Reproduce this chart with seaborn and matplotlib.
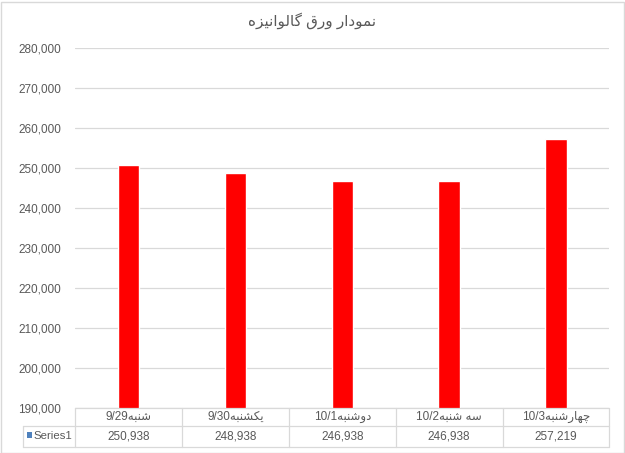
import matplotlib
matplotlib.use("Agg")
import matplotlib.pyplot as plt
import matplotlib.transforms as mtransforms
from matplotlib.lines import Line2D
from matplotlib.patches import Rectangle
import seaborn as sns
import pandas as pd

# ---------------- data ----------------
day_names = ["شنبه", "یکشنبه", "دوشنبه", "سه شنبه", "چهارشنبه"]
dates = ["9/29", "9/30", "10/1", "10/2", "10/3"]
values = [250938, 248938, 246938, 246938, 257219]
series_name = "Series1"
title_text = "نمودار ورق گالوانیزه"
y_ticks = [190000, 200000, 210000, 220000, 230000, 240000, 250000, 260000, 270000, 280000]

# ------------- minimal Arabic/Persian shaping -------------
FORMS = {  # isolated, final, initial, medial
    "\u0627": (0xFE8D, 0xFE8E, None, None),
    "\u0628": (0xFE8F, 0xFE90, 0xFE91, 0xFE92),
    "\u062F": (0xFEA9, 0xFEAA, None, None),
    "\u0631": (0xFEAD, 0xFEAE, None, None),
    "\u0632": (0xFEAF, 0xFEB0, None, None),
    "\u0633": (0xFEB1, 0xFEB2, 0xFEB3, 0xFEB4),
    "\u0634": (0xFEB5, 0xFEB6, 0xFEB7, 0xFEB8),
    "\u0642": (0xFED5, 0xFED6, 0xFED7, 0xFED8),
    "\u0644": (0xFEDD, 0xFEDE, 0xFEDF, 0xFEE0),
    "\u0645": (0xFEE1, 0xFEE2, 0xFEE3, 0xFEE4),
    "\u0646": (0xFEE5, 0xFEE6, 0xFEE7, 0xFEE8),
    "\u0647": (0xFEE9, 0xFEEA, 0xFEEB, 0xFEEC),
    "\u0648": (0xFEED, 0xFEEE, None, None),
    "\u062C": (0xFE9D, 0xFE9E, 0xFE9F, 0xFEA0),
    "\u06CC": (0xFBFC, 0xFBFD, 0xFBFE, 0xFBFF),
    "\u06A9": (0xFB8E, 0xFB8F, 0xFB90, 0xFB91),
    "\u06AF": (0xFB92, 0xFB93, 0xFB94, 0xFB95),
    "\u0686": (0xFB7A, 0xFB7B, 0xFB7C, 0xFB7D),
}


def dual(c):
    return c in FORMS and FORMS[c][2] is not None


def visual(s):
    out = []
    for i, c in enumerate(s):
        if c not in FORMS:
            out.append(c)
            continue
        prev_join = i > 0 and dual(s[i - 1])
        next_join = dual(c) and i + 1 < len(s) and s[i + 1] in FORMS
        iso, fin, ini, med = FORMS[c]
        if prev_join and next_join:
            code = med
        elif prev_join:
            code = fin
        elif next_join:
            code = ini
        else:
            code = iso
        out.append(chr(code))
    return "".join(out[::-1])


cat_labels = [d + visual(n) for n, d in zip(day_names, dates)]
df = pd.DataFrame({"cat": cat_labels, "val": values})

# ---------------- figure ----------------
W, H = 625, 453
fig = plt.figure(figsize=(W / 100, H / 100), dpi=100)
sns.set_style("white")
plt.rcParams["font.family"] = ["Liberation Sans", "DejaVu Sans"]

grid_c = "#D9D9D9"
text_c = "#595959"
fs = 8.5

x_left, x_right = 75.3, 609.3
y_top, y_base = 48.3, 408.3
ax = fig.add_axes([x_left / W, 1 - y_base / H, (x_right - x_left) / W, (y_base - y_top) / H])

sns.barplot(data=df, x="cat", y="val", color="#FF0000", saturation=1, width=0.2, ax=ax)
ax.set_xlim(-0.5, len(values) - 0.5)
ax.set_ylim(y_ticks[0], y_ticks[-1])
ax.set_yticks(y_ticks)
ax.set_yticklabels([f"{v:,}" for v in y_ticks], fontsize=fs, color=text_c)
ax.tick_params(axis="y", length=0, pad=10)
ax.set_xticks([])
ax.set_xlabel("")
ax.set_ylabel("")
for sp in ax.spines.values():
    sp.set_visible(False)
ax.yaxis.grid(True, color=grid_c, linewidth=0.9)
ax.set_axisbelow(True)

# ---------------- data table ----------------
trans = mtransforms.blended_transform_factory(ax.transData, fig.transFigure)
fy = lambda py: 1 - py / H
fx = lambda px: px / W
row1_top, row1_bot, row2_bot = 408.3, 426.0, 446.7
n = len(values)

ax.add_line(Line2D([-0.5, n - 0.5], [fy(row1_top)] * 2, transform=trans, color=grid_c, lw=0.9, clip_on=False))
for yy in (row1_bot, row2_bot):
    fig.add_artist(Line2D([fx(22.7), fx(x_right)], [fy(yy)] * 2, transform=fig.transFigure, color=grid_c, lw=0.9))
for i in range(n + 1):
    ax.add_line(Line2D([i - 0.5, i - 0.5], [fy(row1_top), fy(row2_bot)], transform=trans,
                       color=grid_c, lw=0.9, clip_on=False))
fig.add_artist(Line2D([fx(22.7)] * 2, [fy(row1_bot), fy(row2_bot)], transform=fig.transFigure, color=grid_c, lw=0.9))

for i in range(n):
    ax.text(i, fy((row1_top + row1_bot) / 2), cat_labels[i], transform=trans, ha="center", va="center",
            fontsize=fs, color=text_c, clip_on=False)
    ax.text(i, fy((row1_bot + row2_bot) / 2), f"{values[i]:,}", transform=trans, ha="center", va="center",
            fontsize=fs, color=text_c, clip_on=False)

# legend key + series name
fig.add_artist(Rectangle((fx(26.8), fy(437.8)), 5.4 / W, 5.4 / H, transform=fig.transFigure,
                         facecolor="#4F81BD", edgecolor="none"))
fig.text(fx(33.0), fy((row1_bot + row2_bot) / 2), series_name, ha="left", va="center", fontsize=8.2, color=text_c)

# title
fig.text(0.5, fy(20.5), visual(title_text), ha="center", va="center", fontsize=11, color=text_c)

# chart border
fig.add_artist(Rectangle((0.5 / W, 0.5 / H), (W - 2) / W, (H - 2) / H, transform=fig.transFigure,
                         facecolor="none", edgecolor=grid_c, lw=1))

fig.savefig("out.png", dpi=100)
